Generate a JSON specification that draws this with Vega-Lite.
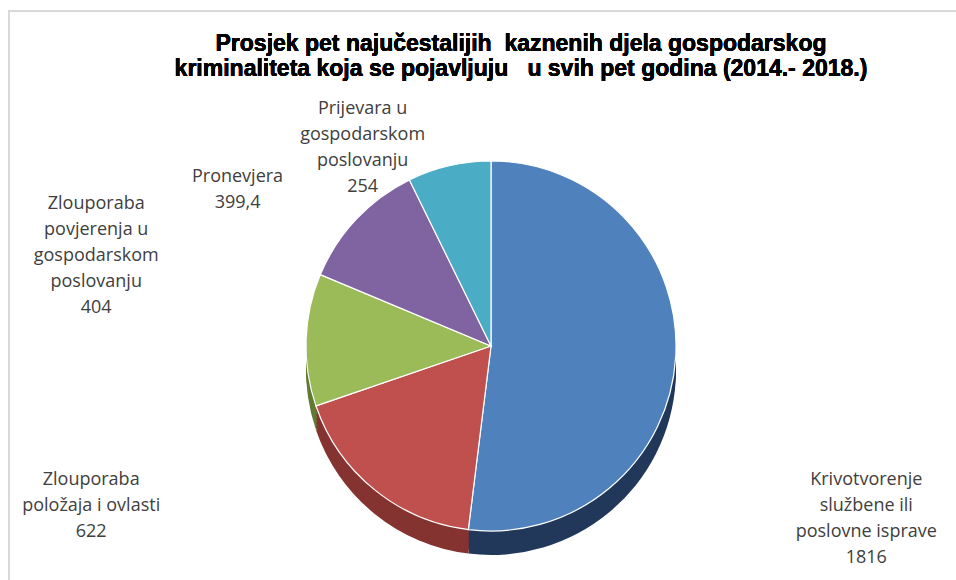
{
  "$schema": "https://vega.github.io/schema/vega-lite/v6.json",
  "autosize": "none",
  "width": 952,
  "height": 574,
  "padding": {"left": 9, "top": 11, "right": 0, "bottom": 0},
  "background": "white",
  "config": {"view": {"stroke": null}},
  "data": {
    "values": [
      {"kategorija": "Krivotvorenje službene ili poslovne isprave", "prosjek": 1816, "red": 1, "label": ["Krivotvorenje", "službene ili", "poslovne isprave", "1816"]},
      {"kategorija": "Zlouporaba položaja i ovlasti", "prosjek": 622, "red": 2, "label": ["Zlouporaba", "položaja i ovlasti", "622"]},
      {"kategorija": "Zlouporaba povjerenja u gospodarskom poslovanju", "prosjek": 404, "red": 3, "label": ["Zlouporaba", "povjerenja u", "gospodarskom", "poslovanju", "404"]},
      {"kategorija": "Pronevjera", "prosjek": 399.4, "red": 4, "label": ["Pronevjera", "399,4"]},
      {"kategorija": "Prijevara u gospodarskom poslovanju", "prosjek": 254, "red": 5, "label": ["Prijevara u", "gospodarskom", "poslovanju", "254"]}
    ]
  },
  "encoding": {
    "theta": {"field": "prosjek", "type": "quantitative", "stack": true},
    "order": {"field": "red", "type": "quantitative"}
  },
  "layer": [
    {"mark": {"type": "rect", "fill": null, "stroke": "#D9D9D9", "strokeWidth": 1.5}, "encoding": {}},
    {"mark": {"type": "text", "font": "Liberation Sans", "fontSize": 23, "fontWeight": "bold", "color": "#000000", "align": "center", "baseline": "alphabetic", "lineHeight": 25, "dx": 36, "dy": -247},
     "encoding": {"text": {"value": ["Prosjek pet najučestalijih \u00a0kaznenih djela gospodarskog", "kriminaliteta koja se pojavljuju \u00a0\u00a0u svih pet godina (2014.- 2018.)"]}, "theta": null, "order": null}},
    {"mark": {"type": "arc", "radius": 185, "xOffset": 6, "yOffset": 72}, "encoding": {"fill": {"field": "kategorija", "type": "nominal", "sort": {"field": "red"}, "scale": {"range": ["#22385A", "#853331", "#617A35", "#4F3D66", "#2D7487"]}, "legend": null}}},
    {"mark": {"type": "arc", "radius": 185, "xOffset": 6, "yOffset": 68}, "encoding": {"fill": {"field": "kategorija", "type": "nominal", "sort": {"field": "red"}, "legend": null}}},
    {"mark": {"type": "arc", "radius": 185, "xOffset": 6, "yOffset": 64}, "encoding": {"fill": {"field": "kategorija", "type": "nominal", "sort": {"field": "red"}, "legend": null}}},
    {"mark": {"type": "arc", "radius": 185, "xOffset": 6, "yOffset": 60}, "encoding": {"fill": {"field": "kategorija", "type": "nominal", "sort": {"field": "red"}, "legend": null}}},
    {"mark": {"type": "arc", "radius": 185, "xOffset": 6, "yOffset": 56}, "encoding": {"fill": {"field": "kategorija", "type": "nominal", "sort": {"field": "red"}, "legend": null}}},
    {"mark": {"type": "arc", "radius": 185, "xOffset": 6, "yOffset": 52}, "encoding": {"fill": {"field": "kategorija", "type": "nominal", "sort": {"field": "red"}, "legend": null}}},
    {"mark": {"type": "arc", "radius": 185, "xOffset": 6, "yOffset": 48, "stroke": "white", "strokeWidth": 1.2}, "encoding": {"color": {"field": "kategorija", "type": "nominal", "sort": {"field": "red"}, "scale": {"range": ["#4F81BD", "#C0504D", "#9BBB59", "#8064A2", "#4BACC6"]}, "legend": null}}},
    {"mark": {"type": "text", "radius": 376, "xOffset": 6, "yOffset": 48, "dx": 0, "dy": 111, "font": "Open Sans", "fontSize": 18, "lineHeight": 26, "color": "#404040", "align": "center", "baseline": "middle"},
     "encoding": {"text": {"condition": {"test": "datum.red === 1", "field": "label"}, "value": ""}}},
    {"mark": {"type": "text", "radius": 206, "xOffset": 6, "yOffset": 48, "dx": -270, "dy": -26, "font": "Open Sans", "fontSize": 18, "lineHeight": 26, "color": "#404040", "align": "center", "baseline": "middle"},
     "encoding": {"text": {"condition": {"test": "datum.red === 2", "field": "label"}, "value": ""}}},
    {"mark": {"type": "text", "radius": 400, "xOffset": 6, "yOffset": 48, "dx": 5, "dy": -129, "font": "Open Sans", "fontSize": 18, "lineHeight": 26, "color": "#404040", "align": "center", "baseline": "middle"},
     "encoding": {"text": {"condition": {"test": "datum.red === 3", "field": "label"}, "value": ""}}},
    {"mark": {"type": "text", "radius": 230, "xOffset": 6, "yOffset": 48, "dx": -86, "dy": -11, "font": "Open Sans", "fontSize": 18, "lineHeight": 26, "color": "#404040", "align": "center", "baseline": "middle"},
     "encoding": {"text": {"condition": {"test": "datum.red === 4", "field": "label"}, "value": ""}}},
    {"mark": {"type": "text", "radius": 205, "xOffset": 6, "yOffset": 48, "dx": -82, "dy": -37, "font": "Open Sans", "fontSize": 18, "lineHeight": 26, "color": "#404040", "align": "center", "baseline": "middle"},
     "encoding": {"text": {"condition": {"test": "datum.red === 5", "field": "label"}, "value": ""}}}
  ]
}
